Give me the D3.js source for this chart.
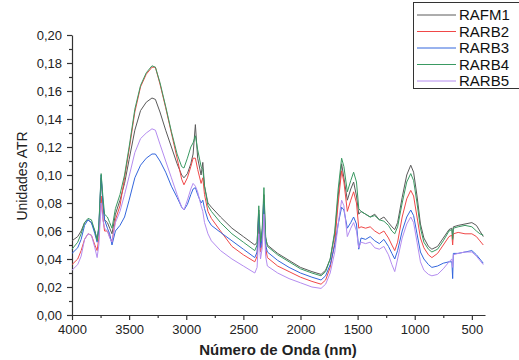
<!DOCTYPE html>
<html>
<head>
<meta charset="utf-8">
<script src="https://cdn.jsdelivr.net/npm/d3@7"></script>
<style>
  body { margin: 0; background: #fff; }
  text { font-family: "Liberation Sans", Arial, sans-serif; }
</style>
</head>
<body>
<div id="chart"></div>
<script>
const waves = [4000,3950,3920,3890,3860,3830,3800,3780,3765,3745,3730,3715,3690,3670,3650,3620,3580,3540,3500,3450,3400,3350,3300,3270,3230,3180,3130,3080,3040,3020,2990,2960,2940,2920,2900,2870,2855,2840,2810,2780,2700,2600,2500,2400,2380,2365,2350,2335,2320,2305,2290,2200,2100,2000,1900,1820,1780,1740,1700,1670,1640,1620,1590,1560,1535,1510,1490,1470,1430,1390,1350,1310,1270,1230,1200,1175,1150,1110,1070,1035,1010,980,950,920,880,850,800,750,700,675,668,662,620,560,500,460,430,400];

const names = ["RAFM1", "RARB2", "RARB3", "RARB4", "RARB5"];
const colors = ["#5a5a5a", "#f04848", "#3366dd", "#3a9a62", "#b48cf0"];

const RAFM1 = [0.053,0.056,0.060,0.066,0.068,0.066,0.060,0.054,0.062,0.098,0.080,0.068,0.066,0.062,0.058,0.072,0.082,0.094,0.111,0.132,0.146,0.152,0.155,0.154,0.145,0.132,0.120,0.108,0.100,0.098,0.101,0.108,0.115,0.136,0.112,0.100,0.109,0.092,0.080,0.077,0.070,0.062,0.056,0.050,0.052,0.075,0.050,0.060,0.086,0.055,0.050,0.044,0.039,0.034,0.031,0.029,0.032,0.040,0.058,0.085,0.108,0.098,0.082,0.090,0.095,0.085,0.072,0.074,0.072,0.070,0.072,0.068,0.070,0.066,0.063,0.061,0.066,0.084,0.100,0.107,0.102,0.085,0.065,0.055,0.049,0.047,0.049,0.055,0.061,0.062,0.055,0.063,0.064,0.065,0.066,0.064,0.060,0.056];
const RARB2 = [0.036,0.040,0.046,0.054,0.058,0.057,0.050,0.046,0.055,0.085,0.070,0.060,0.060,0.056,0.052,0.068,0.078,0.098,0.118,0.145,0.163,0.172,0.177,0.177,0.165,0.148,0.130,0.112,0.097,0.093,0.098,0.106,0.112,0.112,0.104,0.094,0.098,0.086,0.074,0.069,0.060,0.049,0.043,0.038,0.042,0.065,0.045,0.052,0.078,0.048,0.041,0.035,0.031,0.027,0.024,0.022,0.025,0.034,0.052,0.080,0.103,0.095,0.074,0.082,0.088,0.080,0.062,0.063,0.062,0.063,0.060,0.058,0.060,0.055,0.050,0.046,0.052,0.070,0.083,0.089,0.085,0.070,0.055,0.048,0.043,0.041,0.044,0.050,0.056,0.057,0.050,0.058,0.059,0.058,0.058,0.056,0.053,0.050];
const RARB3 = [0.044,0.048,0.054,0.064,0.068,0.066,0.058,0.052,0.063,0.100,0.082,0.068,0.062,0.058,0.050,0.060,0.064,0.070,0.082,0.098,0.107,0.112,0.115,0.115,0.110,0.102,0.092,0.084,0.077,0.075,0.079,0.086,0.090,0.091,0.086,0.080,0.082,0.076,0.068,0.064,0.059,0.053,0.047,0.041,0.045,0.072,0.048,0.055,0.080,0.050,0.045,0.039,0.034,0.030,0.027,0.025,0.028,0.036,0.050,0.065,0.077,0.075,0.062,0.066,0.070,0.065,0.047,0.055,0.054,0.056,0.053,0.051,0.054,0.049,0.044,0.040,0.046,0.060,0.070,0.075,0.071,0.058,0.045,0.040,0.036,0.034,0.035,0.037,0.038,0.038,0.026,0.044,0.044,0.045,0.046,0.043,0.040,0.037];
const RARB4 = [0.047,0.052,0.058,0.066,0.069,0.068,0.060,0.053,0.064,0.101,0.085,0.072,0.070,0.066,0.062,0.076,0.086,0.100,0.120,0.147,0.164,0.173,0.178,0.177,0.166,0.149,0.131,0.115,0.106,0.105,0.112,0.120,0.123,0.128,0.118,0.106,0.104,0.092,0.078,0.074,0.066,0.058,0.052,0.046,0.050,0.078,0.052,0.062,0.091,0.056,0.049,0.043,0.038,0.033,0.030,0.028,0.031,0.040,0.060,0.090,0.112,0.106,0.088,0.096,0.102,0.095,0.076,0.074,0.072,0.070,0.071,0.068,0.067,0.064,0.060,0.058,0.063,0.080,0.095,0.101,0.096,0.080,0.062,0.052,0.047,0.045,0.047,0.053,0.060,0.061,0.054,0.062,0.063,0.064,0.063,0.060,0.058,0.057];
const RARB5 = [0.032,0.036,0.042,0.054,0.058,0.057,0.048,0.041,0.050,0.080,0.068,0.062,0.060,0.055,0.052,0.066,0.074,0.086,0.099,0.116,0.126,0.130,0.133,0.132,0.122,0.110,0.098,0.086,0.077,0.075,0.082,0.090,0.094,0.092,0.088,0.078,0.074,0.066,0.058,0.053,0.046,0.040,0.035,0.030,0.034,0.058,0.040,0.048,0.072,0.042,0.035,0.030,0.026,0.023,0.020,0.019,0.022,0.030,0.045,0.065,0.082,0.078,0.056,0.062,0.066,0.060,0.048,0.052,0.051,0.052,0.048,0.047,0.049,0.043,0.036,0.031,0.040,0.055,0.065,0.070,0.066,0.052,0.038,0.032,0.029,0.028,0.029,0.033,0.038,0.040,0.034,0.043,0.044,0.045,0.045,0.042,0.039,0.036];

const series = [RAFM1, RARB2, RARB3, RARB4, RARB5];

const xTicks = [4000,3500,3000,2500,2000,1500,1000,500];
const yTicks = [0,0.02,0.04,0.06,0.08,0.10,0.12,0.14,0.16,0.18,0.20];

const W = 519, H = 360;
const svg = d3.select("#chart").append("svg")
  .attr("width", W).attr("height", H);

const x = d3.scaleLinear().domain([4000, 385]).range([72, 485]);
const y = d3.scaleLinear().domain([0, 0.2]).range([315, 35]);

const comma = v => d3.format(".2f")(v).replace(".", ",");

// minor ticks
svg.append("g")
  .attr("transform", "translate(0,315)")
  .call(d3.axisBottom(x).tickValues(d3.range(3750, 385, -500)).tickSize(3).tickFormat(""))
  .call(g => g.select(".domain").remove());
svg.append("g")
  .attr("transform", "translate(72,0)")
  .call(d3.axisLeft(y).tickValues(d3.range(0.01, 0.2, 0.02)).tickSize(3).tickFormat(""))
  .call(g => g.select(".domain").remove());

// major axes
const xAxis = svg.append("g")
  .attr("transform", "translate(0,315)")
  .call(d3.axisBottom(x).tickValues(xTicks).tickSize(5).tickSizeOuter(0).tickPadding(5).tickFormat(d3.format("d")));
xAxis.selectAll("text").style("font-size", "13px").attr("fill", "#222");

const yAxis = svg.append("g")
  .attr("transform", "translate(72,0)")
  .call(d3.axisLeft(y).tickValues(yTicks).tickSize(5).tickSizeOuter(0).tickPadding(5).tickFormat(comma));
yAxis.selectAll("text").style("font-size", "13px").attr("fill", "#222");

svg.selectAll(".domain, .tick line").attr("stroke", "#333").attr("stroke-width", 1.2);

// spectra
const line = d3.line()
  .x((d, i) => x(waves[i]))
  .y(d => y(d));

svg.append("g").selectAll("path")
  .data(series)
  .join("path")
  .attr("d", line)
  .attr("fill", "none")
  .attr("stroke", (d, i) => colors[i])
  .attr("stroke-width", 1);

// axis titles
svg.append("text")
  .attr("x", 278).attr("y", 355)
  .attr("text-anchor", "middle")
  .style("font-size", "15px").style("font-weight", "bold")
  .attr("fill", "#222")
  .text("Número de Onda (nm)");

svg.append("text")
  .attr("transform", "translate(27,176) rotate(-90)")
  .attr("text-anchor", "middle")
  .style("font-size", "14px")
  .attr("fill", "#222")
  .text("Unidades ATR");

// legend
const legend = svg.append("g");
legend.append("rect")
  .attr("x", 413.5).attr("y", 2.5)
  .attr("width", 120).attr("height", 86)
  .attr("fill", "#fff").attr("stroke", "#333");

names.forEach(function(n, i) {
  const ly = 15 + i * 16.5;
  legend.append("line")
    .attr("x1", 417).attr("x2", 456)
    .attr("y1", ly).attr("y2", ly)
    .attr("stroke", colors[i]).attr("stroke-width", 1);
  legend.append("text")
    .attr("x", 459).attr("y", ly + 5)
    .style("font-size", "15px")
    .attr("fill", "#111")
    .text(n);
});
</script>
</body>
</html>
